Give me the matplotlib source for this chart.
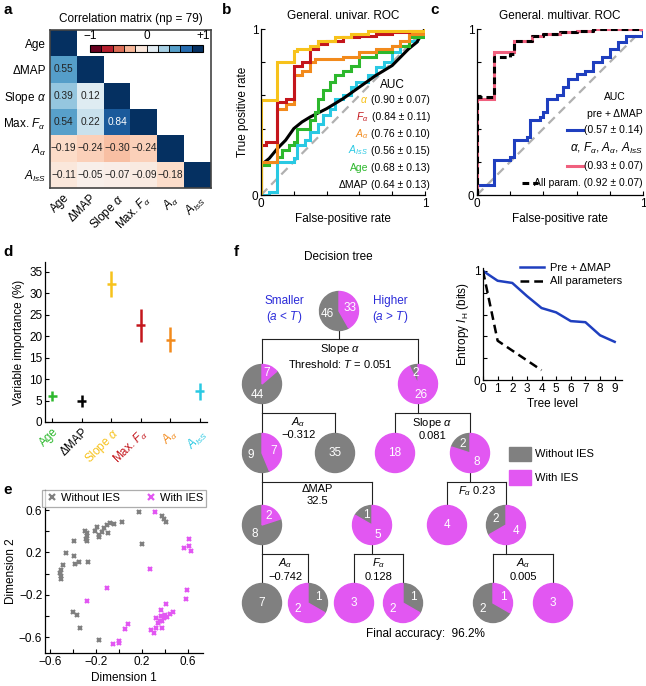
import numpy as np
import matplotlib
matplotlib.use('Agg')
import matplotlib.pyplot as plt
from matplotlib.patches import Wedge, Circle, Rectangle
from matplotlib.colors import BoundaryNorm
from matplotlib.cm import ScalarMappable

plt.rcParams['font.family'] = ['Liberation Sans', 'DejaVu Sans']
plt.rcParams['font.size'] = 8
plt.rcParams['mathtext.fontset'] = 'custom'
plt.rcParams['mathtext.rm'] = 'Liberation Sans'
plt.rcParams['mathtext.it'] = 'Liberation Sans:italic'
plt.rcParams['xtick.direction'] = 'in'
plt.rcParams['ytick.direction'] = 'in'
plt.rcParams['axes.linewidth'] = 0.9

# ---------------- data ----------------
var_names = ['Age', 'ΔMAP', r'Slope $\alpha$', r'Max. $F_\alpha$', r'$A_\alpha$', r'$A_{IsS}$']
corr_rows = [
    [0.55],
    [0.39, 0.12],
    [0.54, 0.22, 0.84],
    [-0.19, -0.24, -0.30, -0.24],
    [-0.11, -0.05, -0.07, -0.09, -0.18],
]
var_colors = ['#2db82d', 'black', '#f7c21b', '#c4161c', '#f28a1c', '#29c9e3']

# univariate ROC curves (fpr, tpr at each step)
roc_alpha_fpr = [0, 0, 0.1, 0.2, 0.22, 0.3, 0.35, 0.45, 0.55, 0.65, 1.0]
roc_alpha_tpr = [0, 0.57, 0.8, 0.87, 0.88, 0.9, 0.93, 0.95, 0.97, 0.99, 1.0]
roc_f_fpr = [0, 0, 0.03, 0.1, 0.15, 0.2, 0.25, 0.3, 0.35, 0.4, 0.5, 0.6, 0.7, 0.8, 0.9, 1.0]
roc_f_tpr = [0, 0.30, 0.32, 0.56, 0.58, 0.78, 0.8, 0.88, 0.91, 0.93, 0.95, 0.96, 0.97, 0.98, 0.99, 1.0]
roc_a_fpr = [0, 0, 0.1, 0.15, 0.2, 0.25, 0.3, 0.33, 0.5, 0.6, 0.7, 0.8, 0.85, 0.9, 1.0]
roc_a_tpr = [0, 0.2, 0.52, 0.55, 0.72, 0.75, 0.8, 0.82, 0.83, 0.86, 0.88, 0.9, 0.93, 0.97, 1.0]
roc_ais_fpr = [0, 0.05, 0.1, 0.2, 0.22, 0.27, 0.3, 0.35, 0.38, 0.42, 0.45, 0.5, 0.55, 0.58, 0.65, 0.7,
               0.75, 0.8, 0.85, 0.9, 0.95, 1.0]
roc_ais_tpr = [0, 0.02, 0.2, 0.22, 0.3, 0.33, 0.38, 0.43, 0.48, 0.52, 0.58, 0.6, 0.65, 0.68, 0.72, 0.77,
               0.8, 0.86, 0.9, 0.93, 0.98, 1.0]
roc_age_fpr = [0, 0, 0.05, 0.1, 0.13, 0.17, 0.2, 0.22, 0.3, 0.33, 0.35, 0.38, 0.42, 0.45, 0.5, 0.55,
               0.6, 0.7, 0.8, 0.9, 1.0]
roc_age_tpr = [0, 0.18, 0.2, 0.23, 0.27, 0.3, 0.32, 0.4, 0.45, 0.5, 0.58, 0.63, 0.68, 0.72, 0.75, 0.78,
               0.83, 0.86, 0.9, 0.95, 1.0]
roc_map_fpr = [0, 0, 0.05, 0.1, 0.15, 0.2, 0.25, 0.3, 0.4, 0.5, 0.6, 0.7, 0.8, 0.9, 0.95, 1.0]
roc_map_tpr = [0, 0.18, 0.22, 0.28, 0.33, 0.40, 0.44, 0.47, 0.52, 0.58, 0.65, 0.72, 0.78, 0.88, 0.92, 1.0]

auc_names = [r'$\alpha$', r'$F_\alpha$', r'$A_\alpha$', r'$A_{IsS}$', 'Age', 'ΔMAP']
auc_values = ['(0.90 ± 0.07)', '(0.84 ± 0.11)', '(0.76 ± 0.10)', '(0.56 ± 0.15)',
              '(0.68 ± 0.13)', '(0.64 ± 0.13)']
auc_colors = ['#f7c21b', '#c4161c', '#f28a1c', '#29c9e3', '#2db82d', 'black']

# multivariate ROC curves
roc_pre_fpr = [0, 0, 0.1, 0.2, 0.22, 0.3, 0.32, 0.38, 0.4, 0.42, 0.48, 0.52, 0.55, 0.6, 0.65, 0.7,
               0.75, 0.8, 0.85, 0.9, 1.0]
roc_pre_tpr = [0, 0.06, 0.21, 0.23, 0.33, 0.35, 0.45, 0.47, 0.5, 0.58, 0.6, 0.65, 0.7, 0.73, 0.75,
               0.8, 0.83, 0.88, 0.92, 0.96, 1.0]
roc_ies_fpr = [0, 0, 0.1, 0.2, 0.22, 0.33, 0.4, 0.5, 0.6, 0.7, 1.0]
roc_ies_tpr = [0, 0.58, 0.86, 0.86, 0.93, 0.96, 0.97, 0.98, 0.99, 1.0, 1.0]
roc_all_fpr = [0, 0, 0.1, 0.2, 0.22, 0.33, 0.4, 0.5, 0.6, 0.7, 1.0]
roc_all_tpr = [0, 0.59, 0.83, 0.85, 0.93, 0.96, 0.97, 0.98, 0.99, 1.0, 1.0]

# variable importance
importance = [6.1, 5.0, 32.2, 22.5, 19.2, 7.2]
importance_err = [1.1, 1.4, 3.0, 3.8, 2.9, 2.0]

# MDS embedding
without_x = [0.175, 0.375, 0.392, 0.412, 0.204, 0.025, -0.045, -0.079, -0.108, -0.129, -0.146, -0.094,
             -0.192, -0.21, -0.178, -0.175, -0.293, -0.276, -0.282, -0.291, -0.276, -0.389, -0.267,
             -0.458, -0.389, -0.351, -0.383, -0.484, -0.502, -0.513, -0.507, -0.507, -0.403, -0.363,
             -0.340, -0.178]
without_y = [0.584, 0.547, 0.515, 0.490, 0.276, 0.49, 0.468, 0.474, 0.459, 0.427, 0.396, 0.38,
             0.437, 0.40, 0.364, 0.342, 0.405, 0.38, 0.358, 0.327, 0.308, 0.311, 0.113,
             0.192, 0.170, 0.113, 0.091, 0.082, 0.035, 0.003, -0.028, -0.053, -0.361, -0.396,
             -0.515, -0.625]
with_x = [0.317, 0.606, 0.565, 0.606, 0.629, 0.273, -0.108, -0.276, 0.594, 0.585, 0.412, 0.366,
          0.470, 0.441, 0.400, 0.368, 0.389, 0.421, 0.325, 0.354, 0.377, 0.337, 0.371, 0.325,
          0.276, 0.302, 0.077, 0.051, 0.002, -0.004, -0.051]
with_y = [0.584, 0.327, 0.239, 0.264, 0.217, 0.041, -0.138, -0.255, -0.154, -0.239, -0.289, -0.349,
          -0.368, -0.383, -0.390, -0.405, -0.421, -0.415, -0.421, -0.452, -0.446, -0.468, -0.515,
          -0.515, -0.531, -0.562, -0.474, -0.525, -0.641, -0.657, -0.666]

# decision tree: (without IES, with IES) per node
node_counts = [(46, 33), (44, 7), (2, 26), (9, 7), (35, 0), (0, 18), (2, 8), (8, 2), (1, 5),
               (0, 4), (2, 4), (7, 0), (1, 2), (0, 3), (1, 2), (2, 1), (0, 3)]
node_level = [0, 1, 1, 2, 2, 2, 2, 3, 3, 3, 3, 4, 4, 4, 4, 4, 4]
splits = [(0, 1, 2, 'Slope $\\alpha$\nThreshold: $T$ = 0.051'),
          (1, 3, 4, '$A_\\alpha$\n\u22120.312'),
          (2, 5, 6, 'Slope $\\alpha$\n0.081'),
          (3, 7, 8, 'ΔMAP\n32.5'),
          (6, 9, 10, '$F_\\alpha$ 0.23'),
          (7, 11, 12, '$A_\\alpha$\n\u22120.742'),
          (8, 13, 14, '$F_\\alpha$\n0.128'),
          (10, 15, 16, '$A_\\alpha$\n0.005')]
accuracy = 96.2

tree_level = list(range(10))
entropy_pre = [1.0, 0.91, 0.89, 0.77, 0.66, 0.62, 0.54, 0.53, 0.41, 0.35]
entropy_all = [1.0, 0.36, 0.27, 0.18, 0.09]

GRAY = '#808080'
MAGENTA = '#e257f2'
BLUE = '#1f3fbf'
PINK = '#f0607e'

# ---------------- layout helpers ----------------
W, H = 646, 686
fig = plt.figure(figsize=(W / 100, H / 100), dpi=100)


def box(x0, y0, x1, y1):
    return [x0 / W, 1 - y1 / H, (x1 - x0) / W, (y1 - y0) / H]


def label(x, y, s):
    fig.text(x / W, 1 - y / H, s, fontsize=11, fontweight='bold', ha='left', va='center')


def roc_axes(ax, title):
    ax.set_xlim(0, 1)
    ax.set_ylim(0, 1)
    ax.spines[['top', 'right']].set_visible(False)
    ax.set_xticks(np.linspace(0, 1, 6), ['0', '', '', '', '', '1'])
    ax.set_yticks(np.linspace(0, 1, 6), ['0', '', '', '', '', '1'])
    ax.tick_params(length=3, width=0.8, labelsize=8.5, pad=2)
    ax.plot([0, 1], [0, 1], color='#b0b0b0', ls=(0, (4, 2.5)), lw=1.6, zorder=1)
    ax.set_title(title, fontsize=8.5, pad=7)
    ax.set_xlabel('False-positive rate', fontsize=8.5, labelpad=2)


# ---------------- a: correlation matrix ----------------
n = len(var_names)
corr = np.full((n, n), np.nan)
for i in range(n):
    corr[i, i] = 1.0
    if i > 0:
        corr[i, :i] = corr_rows[i - 1]

ax = fig.add_axes(box(50, 30, 211, 188))
ax.imshow(corr, cmap='RdBu', vmin=-1, vmax=1, aspect='auto')
for i in range(1, n):
    for j in range(i):
        v = corr[i, j]
        ax.text(j, i, f'{v:.2f}'.replace('-', '\u2212'), ha='center', va='center', fontsize=7.3,
                color='white' if abs(v) > 0.7 else '#222222')
ax.set_xticks(range(n), var_names, rotation=45, ha='right', rotation_mode='anchor', fontsize=8.5)
ax.set_yticks(range(n), var_names, fontsize=8.5)
ax.tick_params(length=0, pad=3)
for s in ax.spines.values():
    s.set_color('#444444')
    s.set_linewidth(1.2)
ax.set_title('Correlation matrix (np = 79)', fontsize=8.5, pad=6)

cax = fig.add_axes(box(90, 45, 203, 52))
cb = fig.colorbar(ScalarMappable(norm=BoundaryNorm(np.linspace(-1, 1, 11), 256), cmap='RdBu'),
                  cax=cax, orientation='horizontal', drawedges=True)
cb.set_ticks([])
cb.outline.set_linewidth(0.8)
cb.dividers.set_linewidth(0.6)
for xf, s in [(0, '\u22121'), (0.5, '0'), (1, '+1')]:
    cax.text(xf, 1.4, s, transform=cax.transAxes, ha='center', va='bottom', fontsize=8.5)
label(3, 10, 'a')

# ---------------- b: univariate ROC ----------------
ax = fig.add_axes(box(261, 29, 425, 195))
roc_axes(ax, 'General. univar. ROC')
ax.set_ylabel('True positive rate', fontsize=8.5, labelpad=2)
kw = dict(lw=2.2, drawstyle='steps-post', solid_joinstyle='miter')
ax.plot(roc_ais_fpr, roc_ais_tpr, color=auc_colors[3], **kw)
ax.plot(roc_map_fpr, roc_map_tpr, color='black', lw=2.2)
ax.plot(roc_age_fpr, roc_age_tpr, color=auc_colors[4], **kw)
ax.plot(roc_a_fpr, roc_a_tpr, color=auc_colors[2], **kw)
ax.plot(roc_f_fpr, roc_f_tpr, color=auc_colors[1], **kw)
ax.plot(roc_alpha_fpr, roc_alpha_tpr, color=auc_colors[0], **kw)
ax.text(0.80, 0.665, 'AUC', transform=ax.transAxes, ha='center', va='center', fontsize=8.5)
for k, (nm, val, col) in enumerate(zip(auc_names, auc_values, auc_colors)):
    y = 0.555 - k * 0.102
    t = ax.text(1.03, y, val, transform=ax.transAxes, ha='right', va='baseline', fontsize=7.5)
    ax.annotate(nm, xy=(0, y), xycoords=(t, 'axes fraction'), xytext=(-2, 0),
                textcoords='offset points', ha='right', va='baseline', fontsize=7.5, color=col)
label(222, 10, 'b')

# ---------------- c: multivariate ROC ----------------
ax = fig.add_axes(box(477, 29, 643, 195))
roc_axes(ax, 'General. multivar. ROC')
ax.plot(roc_pre_fpr, roc_pre_tpr, color=BLUE, **kw)
ax.plot(roc_ies_fpr, roc_ies_tpr, color=PINK, **kw)
ax.plot(roc_all_fpr, roc_all_tpr, color='black', lw=2.2, ls=(0, (2.2, 1.3)), drawstyle='steps-post')
tr = ax.transAxes
ax.text(0.83, 0.59, 'AUC', transform=tr, ha='center', va='center', fontsize=7.5)
ax.text(1.0, 0.49, 'pre + ΔMAP', transform=tr, ha='right', va='center', fontsize=7.5)
ax.plot([0.54, 0.64], [0.39, 0.39], color=BLUE, lw=2.2, transform=tr, clip_on=False)
ax.text(1.0, 0.39, '(0.57 ± 0.14)', transform=tr, ha='right', va='center', fontsize=7.5)
ax.text(1.0, 0.28, r'$\alpha$, $F_\alpha$, $A_\alpha$, $A_{IsS}$', transform=tr, ha='right',
        va='center', fontsize=8.5)
ax.plot([0.54, 0.64], [0.177, 0.177], color=PINK, lw=2.2, transform=tr, clip_on=False)
ax.text(1.0, 0.177, '(0.93 ± 0.07)', transform=tr, ha='right', va='center', fontsize=7.5)
ax.plot([0.27, 0.37], [0.07, 0.07], color='black', lw=2.2, ls=(0, (2.2, 1.3)), transform=tr,
        clip_on=False)
ax.text(1.0, 0.07, 'All param. (0.92 ± 0.07)', transform=tr, ha='right', va='center', fontsize=7.5)
label(430, 10, 'c')

# ---------------- d: variable importance ----------------
ax = fig.add_axes(box(45, 262, 207, 422))
xs = np.arange(len(importance))
for x, v, e, c in zip(xs, importance, importance_err, var_colors):
    ax.errorbar(x, v, xerr=0.15, yerr=e, fmt='none', ecolor=c, elinewidth=1.8, capsize=0)
ax.set_xlim(-0.25, 5.25)
ax.set_ylim(0, 37.3)
ax.set_yticks(range(0, 36, 5))
ax.set_xticks(xs, var_names, rotation=45, ha='right', rotation_mode='anchor', fontsize=8.5)
for tl, c in zip(ax.get_xticklabels(), var_colors):
    tl.set_color(c)
ax.spines[['top', 'right']].set_visible(False)
ax.tick_params(length=3, width=0.8, labelsize=8.5, pad=2)
ax.tick_params(axis='x', pad=3)
ax.set_ylabel('Variable importance (%)', fontsize=8.5, labelpad=3)
label(3, 252, 'd')

# ---------------- e: embedding ----------------
ax = fig.add_axes(box(45, 490, 203, 653))
ax.plot(without_x, without_y, 'x', color=GRAY, ms=3.2, mew=1.6, label='Without IES')
ax.plot(with_x, with_y, 'x', color=MAGENTA, ms=3.2, mew=1.6, label='With IES')
ax.set_xlim(-0.643, 0.73)
ax.set_ylim(-0.751, 0.789)
ax.set_xticks(np.arange(-0.6, 0.61, 0.2), ['\u22120.6', '', '\u22120.2', '', '0.2', '', '0.6'])
ax.set_yticks(np.arange(-0.6, 0.61, 0.2), ['\u22120.6', '', '\u22120.2', '', '0.2', '', '0.6'])
ax.spines[['top', 'right']].set_visible(False)
ax.tick_params(length=3, width=0.8, labelsize=8.5, pad=2)
ax.set_xlabel('Dimension 1', fontsize=8.5, labelpad=3)
ax.set_ylabel('Dimension 2', fontsize=8.5, labelpad=1)
leg = ax.legend(loc='upper center', bbox_to_anchor=(0.5, 1.0), ncol=2, fontsize=8, frameon=True,
                fancybox=False, borderaxespad=0, handletextpad=0.2, columnspacing=2.2,
                borderpad=0.3, handlelength=1.2, markerscale=1.5)
leg.get_frame().set_edgecolor('#999999')
leg.get_frame().set_linewidth(0.9)
label(3, 490, 'e')

# ---------------- f: decision tree ----------------
tx0, tx1, ty0, ty1 = 222, 646, 245, 650
ax = fig.add_axes(box(tx0, ty0, tx1, ty1))
ax.set_xlim(tx0, tx1)
ax.set_ylim(ty1, ty0)
ax.axis('off')

level_y = [311, 384, 453, 525, 603]
node_x = [339, 262, 418, 262, 335, 395, 470, 262, 372, 447, 506, 262, 308, 354, 403, 493, 553]
gray_clockwise = {12, 14}
r = 19.5

for k, (g, m) in enumerate(node_counts):
    cx, cy = node_x[k], level_y[node_level[k]]
    tot = g + m
    if g == 0 or m == 0:
        ax.add_patch(Circle((cx, cy), r, color=GRAY if m == 0 else MAGENTA, zorder=3))
        ax.text(cx, cy, str(tot), color='white', ha='center', va='center', fontsize=8.5, zorder=4)
        continue
    ga = 360 * g / tot
    if k in gray_clockwise:
        g1, g2 = -90, -90 + ga
        m1, m2 = g2, 270
    else:
        g1, g2 = -90 - ga, -90
        m1, m2 = -90, 270 - ga
    ax.add_patch(Wedge((cx, cy), r, g1, g2, color=GRAY, zorder=3))
    ax.add_patch(Wedge((cx, cy), r, m1, m2, color=MAGENTA, zorder=3))
    for a1, a2, v in [(g1, g2, g), (m1, m2, m)]:
        am = np.deg2rad((a1 + a2) / 2)
        d = 0.6 * r
        ax.text(cx + d * np.cos(am), cy + d * np.sin(am), str(v), color='white', ha='center',
                va='center', fontsize=8.5, zorder=4)

for p, c1, c2, txt in splits:
    px, py = node_x[p], level_y[node_level[p]]
    bar = py + r + 9
    cy = level_y[node_level[c1]]
    x1, x2 = node_x[c1], node_x[c2]
    lk = dict(color='#222222', lw=0.8, zorder=2)
    ax.plot([px, px], [py, bar], **lk)
    ax.plot([x1, x2], [bar, bar], **lk)
    ax.plot([x1, x1], [bar, cy], **lk)
    ax.plot([x2, x2], [bar, cy], **lk)
    ax.text((x1 + x2) / 2, bar + 3, txt, ha='center', va='top', fontsize=8, linespacing=1.15,
            zorder=5)

ax.text(338, 257, 'Decision tree', ha='center', va='center', fontsize=8.5)
ax.text(284, 310, 'Smaller\n($a$ < $T$)', ha='center', va='center', fontsize=8.5, color='#2b2bd9',
        linespacing=1.15)
ax.text(390, 310, 'Higher\n($a$ > $T$)', ha='center', va='center', fontsize=8.5, color='#2b2bd9',
        linespacing=1.15)
ax.text(425, 634, f'Final accuracy:  {accuracy}%', ha='center', va='center', fontsize=8.5)
ax.add_patch(Rectangle((509, 447), 22, 14, color=GRAY))
ax.add_patch(Rectangle((509, 470), 22, 15, color=MAGENTA))
ax.text(535, 454, 'Without IES', ha='left', va='center', fontsize=8)
ax.text(535, 478, 'With IES', ha='left', va='center', fontsize=8)
label(234, 252, 'f')

# entropy inset
ax = fig.add_axes(box(483, 268, 622, 380))
ax.plot(tree_level, entropy_pre, color=BLUE, lw=1.8, label='Pre + ΔMAP')
ax.plot(tree_level[:len(entropy_all)], entropy_all, color='black', lw=1.8, ls=(0, (3.5, 2)),
        label='All parameters')
ax.set_xlim(0, 9.5)
ax.set_ylim(0, 1.027)
ax.set_xticks(tree_level)
ax.set_yticks(np.linspace(0, 1, 6), ['0', '', '', '', '', '1'])
ax.spines[['top', 'right']].set_visible(False)
ax.tick_params(length=3, width=0.8, labelsize=8.5, pad=2)
ax.set_xlabel('Tree level', fontsize=8.5, labelpad=2)
ax.set_ylabel(r'Entropy $I_\mathrm{H}$ (bits)', fontsize=8.5, labelpad=2)
ax.legend(loc='upper left', bbox_to_anchor=(514 / W, 1 - 257 / H), bbox_transform=fig.transFigure,
          frameon=False, fontsize=8, handlelength=2.2, handletextpad=0.5, labelspacing=0.35,
          borderpad=0)

fig.savefig('out.png', dpi=100)
